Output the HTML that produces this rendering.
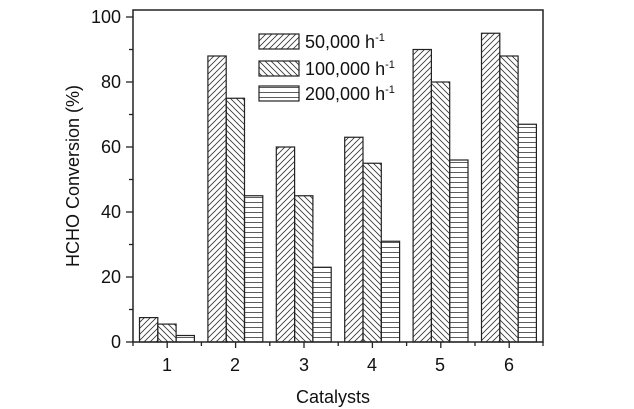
<!DOCTYPE html>
<html><head><style>body{margin:0;background:#fff}svg{display:block}text{font-family:"Liberation Sans",Arial,sans-serif;fill:#111}</style></head><body>
<svg width="634" height="409" viewBox="0 0 634 409" xmlns="http://www.w3.org/2000/svg">
<defs>
<pattern id="p1" patternUnits="userSpaceOnUse" width="6" height="6"><path d="M-1,7 L7,-1 M-4,4 L4,-4 M2,10 L10,2" stroke="#333" stroke-width="0.8"/></pattern>
<pattern id="p2" patternUnits="userSpaceOnUse" width="6" height="6"><path d="M-1,-1 L7,7 M-4,2 L4,10 M2,-4 L10,4" stroke="#333" stroke-width="0.8"/></pattern>
<pattern id="p3" patternUnits="userSpaceOnUse" width="6" height="5"><path d="M0,2.5 L6,2.5" stroke="#333" stroke-width="0.8"/></pattern>
</defs>
<g stroke="#222" stroke-width="1.2">
<rect x="139.5" y="317.6" width="18.3" height="24.4" fill="url(#p1)"/>
<rect x="157.8" y="324.1" width="18.3" height="17.9" fill="url(#p2)"/>
<rect x="176.1" y="335.5" width="18.3" height="6.5" fill="url(#p3)"/>
<rect x="207.9" y="56" width="18.3" height="286" fill="url(#p1)"/>
<rect x="226.2" y="98.25" width="18.3" height="243.75" fill="url(#p2)"/>
<rect x="244.5" y="195.75" width="18.3" height="146.25" fill="url(#p3)"/>
<rect x="276.3" y="147" width="18.3" height="195" fill="url(#p1)"/>
<rect x="294.6" y="195.75" width="18.3" height="146.25" fill="url(#p2)"/>
<rect x="312.9" y="267.25" width="18.3" height="74.75" fill="url(#p3)"/>
<rect x="344.7" y="137.25" width="18.3" height="204.75" fill="url(#p1)"/>
<rect x="363" y="163.25" width="18.3" height="178.75" fill="url(#p2)"/>
<rect x="381.3" y="241.25" width="18.3" height="100.75" fill="url(#p3)"/>
<rect x="413.1" y="49.5" width="18.3" height="292.5" fill="url(#p1)"/>
<rect x="431.4" y="82" width="18.3" height="260" fill="url(#p2)"/>
<rect x="449.7" y="160" width="18.3" height="182" fill="url(#p3)"/>
<rect x="481.5" y="33.25" width="18.3" height="308.75" fill="url(#p1)"/>
<rect x="499.8" y="56" width="18.3" height="286" fill="url(#p2)"/>
<rect x="518.1" y="124.25" width="18.3" height="217.75" fill="url(#p3)"/>
</g>
<rect x="133" y="10" width="410" height="332" fill="none" stroke="#222" stroke-width="1.5"/>
<g stroke="#222" stroke-width="1.3">
<line x1="126" x2="133" y1="342" y2="342"/><line x1="126" x2="133" y1="277" y2="277"/><line x1="126" x2="133" y1="212" y2="212"/><line x1="126" x2="133" y1="147" y2="147"/><line x1="126" x2="133" y1="82" y2="82"/><line x1="126" x2="133" y1="17" y2="17"/>
<line x1="129" x2="133" y1="309.5" y2="309.5"/><line x1="129" x2="133" y1="244.5" y2="244.5"/><line x1="129" x2="133" y1="179.5" y2="179.5"/><line x1="129" x2="133" y1="114.5" y2="114.5"/><line x1="129" x2="133" y1="49.5" y2="49.5"/>
<line x1="133" x2="133" y1="342" y2="346"/><line x1="167.2" x2="167.2" y1="342" y2="348"/><line x1="201.4" x2="201.4" y1="342" y2="346"/><line x1="235.6" x2="235.6" y1="342" y2="348"/><line x1="269.8" x2="269.8" y1="342" y2="346"/><line x1="304" x2="304" y1="342" y2="348"/><line x1="338.2" x2="338.2" y1="342" y2="346"/><line x1="372.4" x2="372.4" y1="342" y2="348"/><line x1="406.6" x2="406.6" y1="342" y2="346"/><line x1="440.8" x2="440.8" y1="342" y2="348"/><line x1="475" x2="475" y1="342" y2="346"/><line x1="509.2" x2="509.2" y1="342" y2="348"/><line x1="543" x2="543" y1="342" y2="346"/>
</g>
<g font-size="18" text-anchor="end">
<text x="121" y="23">100</text><text x="121" y="88">80</text><text x="121" y="153">60</text><text x="121" y="218">40</text><text x="121" y="283">20</text><text x="121" y="348">0</text>
</g>
<g font-size="18" text-anchor="middle">
<text x="167" y="371">1</text><text x="235" y="371">2</text><text x="304" y="371">3</text><text x="372" y="371">4</text><text x="440" y="371">5</text><text x="509" y="371">6</text>
<text x="333" y="403">Catalysts</text>
<text transform="translate(79,176) rotate(-90)">HCHO Conversion (%)</text>
</g>
<g stroke="#222" stroke-width="1.2">
<rect x="259" y="34" width="40" height="15" fill="url(#p1)"/>
<rect x="259" y="61" width="40" height="15" fill="url(#p2)"/>
<rect x="259" y="86" width="40" height="15" fill="url(#p3)"/>
</g>
<g font-size="18">
<text x="305" y="48">50,000 h<tspan font-size="11" dy="-7">-1</tspan></text>
<text x="305" y="75">100,000 h<tspan font-size="11" dy="-7">-1</tspan></text>
<text x="305" y="100">200,000 h<tspan font-size="11" dy="-7">-1</tspan></text>
</g>
</svg>
</body></html>
